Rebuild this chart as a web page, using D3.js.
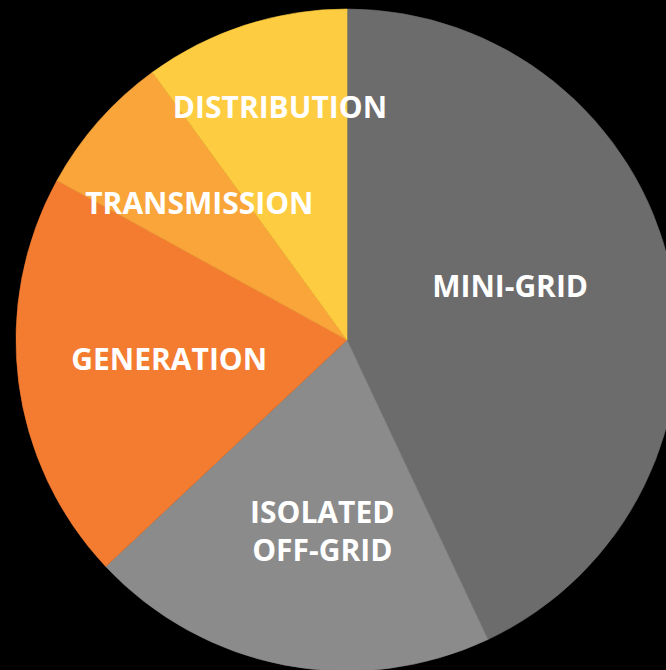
<!DOCTYPE html>
<html>
  <head>
    <meta charset="utf-8">
    <title>Electrification pie</title>
    <script src="https://d3js.org/d3.v7.min.js"></script>
    <style>
      html, body { margin: 0; padding: 0; background: #000; }
      svg { display: block; }
      .slice__label {
        font-family: "Open Sans", sans-serif;
        font-weight: 700;
        font-size: 30px;
        fill: #ffffff;
        text-anchor: middle;
      }
    </style>
  </head>
  <body>
    <svg width="666" height="670"></svg>
    <script>
      // slices, clockwise from 12 o'clock (percent of total)
      const categories = ["MINI-GRID", "ISOLATED OFF-GRID", "GENERATION", "TRANSMISSION", "DISTRIBUTION"];
      const values = [43, 20, 20, 7, 10];
      const colors = ["#6c6c6c", "#8b8b8b", "#f47c31", "#f9a53a", "#fecc40"];

      // label placement: [radius as fraction of pie radius, angle nudge in degrees]
      const labelPlace = {
        "MINI-GRID": [0.52, -6],
        "ISOLATED OFF-GRID": [0.58, -3.4],
        "GENERATION": [0.54, 1.3],
        "TRANSMISSION": [0.61, 1.6],
        "DISTRIBUTION": [0.735, 2]
      };

      function pieChart(selection, props) {
        const { cx, cy, radius } = props;
        const data = categories.map((c, i) => ({ category: c, value: values[i] }));

        const color = d3.scaleOrdinal().domain(categories).range(colors);
        const pie = d3.pie().value(d => d.value).sort(null);
        const arc = d3.arc().innerRadius(0).outerRadius(radius);

        const g = selection.append("g")
          .attr("transform", `translate(${cx}, ${cy})`);

        const arcs = pie(data);

        g.selectAll("path").data(arcs)
          .enter().append("path")
            .attr("d", arc)
            .attr("fill", d => color(d.data.category))
            .attr("stroke", d => color(d.data.category))
            .attr("stroke-width", 0.6)
            .attr("stroke-linejoin", "round");

        const labels = g.selectAll(".slice__label").data(arcs)
          .enter().append("text")
            .attr("class", "slice__label")
            .attr("transform", d => {
              const [k, nudge] = labelPlace[d.data.category];
              const mid = (d.startAngle + d.endAngle) / 2 + nudge * Math.PI / 180;
              const [x, y] = d3.pointRadial(mid, radius * k);
              return `translate(${x}, ${y})`;
            });

        labels.each(function(d) {
          const words = d.data.category === "ISOLATED OFF-GRID"
            ? ["ISOLATED", "OFF-GRID"] : [d.data.category];
          const lineHeight = 38;
          const t = d3.select(this);
          words.forEach((w, i) => {
            t.append("tspan")
              .attr("x", 0)
              .attr("y", (i - (words.length - 1) / 2) * lineHeight + 12)
              .text(w);
          });
        });
      }

      const svg = d3.select("svg");
      svg.call(pieChart, { cx: 347, cy: 340, radius: 331 });
    </script>
  </body>
</html>
